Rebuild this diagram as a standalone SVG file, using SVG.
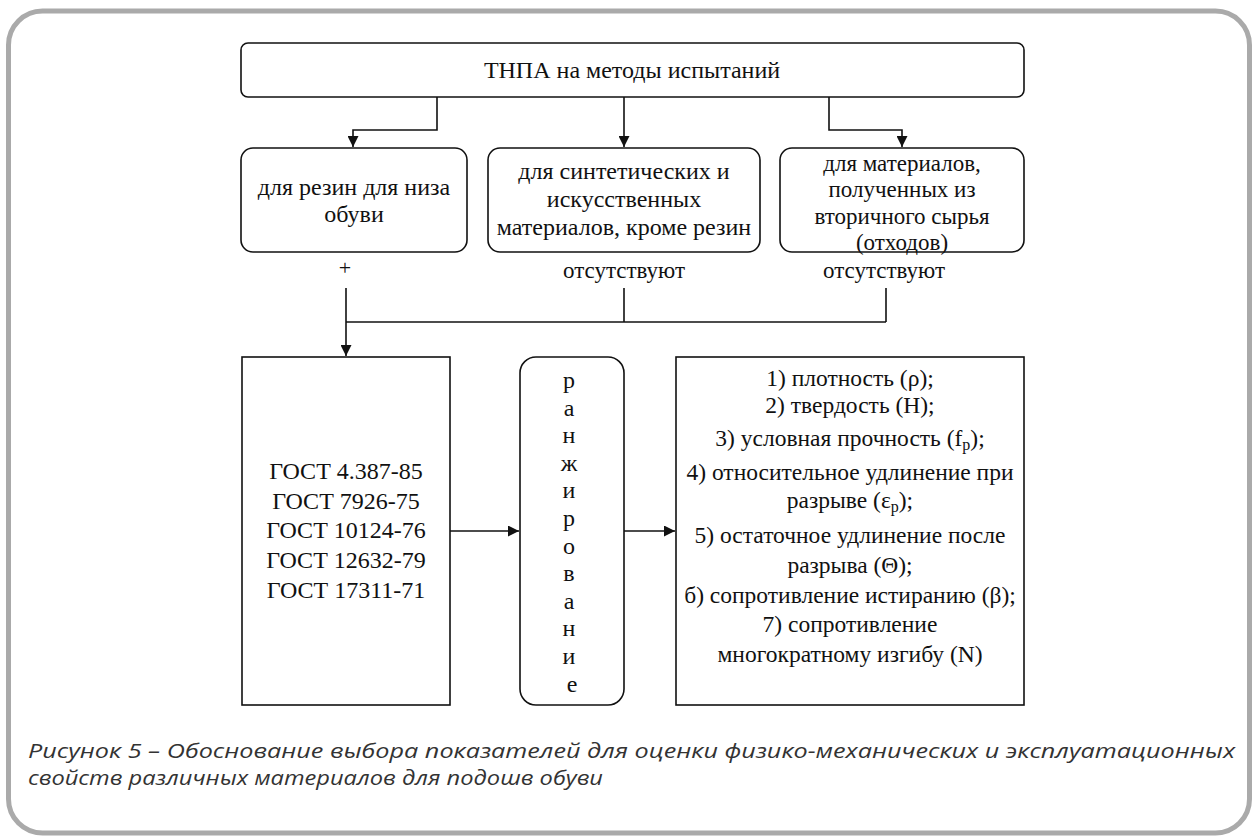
<svg xmlns="http://www.w3.org/2000/svg" width="1253" height="839" viewBox="0 0 1253 839">
<style>
.box{fill:#fff;stroke:#111;stroke-width:1.6}
.t{font-family:"Liberation Serif","DejaVu Serif","Times New Roman",serif;fill:#111;text-anchor:middle}
.c{fill:none;stroke:#111;stroke-width:1.6}
.cap{font-family:"Open Sans","Noto Sans",sans-serif;font-style:italic;font-size:20px;fill:#333}
</style>
<defs>
<marker id="ah2" viewBox="0 0 10 10" refX="10" refY="5" markerWidth="11" markerHeight="11" markerUnits="userSpaceOnUse" orient="auto">
<path d="M0,0 L10,5 L0,10 z" fill="#111"/>
</marker>
</defs>
<rect x="8.5" y="11" width="1241" height="822" rx="34" fill="#fff" stroke="#aaaaaa" stroke-width="5"/>

<g id="connectors">
<path class="c" d="M437,97 V130 H353 V147" marker-end="url(#ah2)"/>
<path class="c" d="M624,97 V147" marker-end="url(#ah2)"/>
<path class="c" d="M829,97 V130 H902 V147" marker-end="url(#ah2)"/>
<path class="c" d="M346,288 V356" marker-end="url(#ah2)"/>
<path class="c" d="M346,322 H886"/>
<path class="c" d="M624,288 V322"/>
<path class="c" d="M886,288 V322"/>
<path class="c" d="M450,531 H519" marker-end="url(#ah2)"/>
<path class="c" d="M624,531 H675" marker-end="url(#ah2)"/>
</g>

<g id="n-top">
<rect class="box" x="241" y="43" width="783" height="54" rx="7"/>
<text class="t" x="632" y="78" font-size="24">ТНПА на методы испытаний</text>
</g>

<g id="n-rubber">
<rect class="box" x="241" y="148" width="226" height="104" rx="12"/>
<text class="t" x="354" y="195" font-size="24">для резин для низа</text>
<text class="t" x="354" y="222" font-size="24">обуви</text>
<text class="t" x="345" y="275" font-size="22">+</text>
</g>

<g id="n-synth">
<rect class="box" x="488" y="148" width="272" height="104" rx="12"/>
<text class="t" x="624" y="179" font-size="24">для синтетических и</text>
<text class="t" x="624" y="207" font-size="24">искусственных</text>
<text class="t" x="624" y="235" font-size="24">материалов, кроме резин</text>
<text class="t" x="624" y="278" font-size="23">отсутствуют</text>
</g>

<g id="n-recycled">
<rect class="box" x="780" y="148" width="244" height="104" rx="12"/>
<text class="t" x="902" y="171" font-size="23">для материалов,</text>
<text class="t" x="902" y="197" font-size="23">полученных из</text>
<text class="t" x="902" y="224" font-size="23">вторичного сырья</text>
<text class="t" x="902" y="250" font-size="23">(отходов)</text>
<text class="t" x="884" y="278" font-size="23">отсутствуют</text>
</g>

<g id="n-gost">
<rect class="box" x="242" y="357" width="208" height="348"/>
<text class="t" x="346" y="479" font-size="24">ГОСТ 4.387-85</text>
<text class="t" x="346" y="509" font-size="24">ГОСТ 7926-75</text>
<text class="t" x="346" y="538" font-size="24">ГОСТ 10124-76</text>
<text class="t" x="346" y="568" font-size="24">ГОСТ 12632-79</text>
<text class="t" x="346" y="598" font-size="24">ГОСТ 17311-71</text>
</g>

<g id="n-rank">
<rect class="box" x="520" y="357" width="104" height="348" rx="16"/>
<text class="t" font-size="24">
<tspan x="572" y="388">р</tspan>
<tspan x="572" y="415.6">а</tspan>
<tspan x="572" y="443.2">н</tspan>
<tspan x="572" y="470.8">ж</tspan>
<tspan x="572" y="498.4">и</tspan>
<tspan x="572" y="526">р</tspan>
<tspan x="572" y="553.6">о</tspan>
<tspan x="572" y="581.2">в</tspan>
<tspan x="572" y="608.8">а</tspan>
<tspan x="572" y="636.4">н</tspan>
<tspan x="572" y="664">и</tspan>
<tspan x="572" y="691.6">е</tspan>
</text>
</g>

<g id="n-indicators">
<rect class="box" x="676" y="357" width="348" height="348"/>
<text class="t" x="850" y="386" font-size="23.5">1) плотность (ρ);</text>
<text class="t" x="850" y="413" font-size="23.5">2) твердость (Н);</text>
<text class="t" x="850" y="446" font-size="23.5">3) условная прочность (f<tspan font-size="16" dy="4">p</tspan><tspan dy="-4">);</tspan></text>
<text class="t" x="850" y="480" font-size="23.5">4) относительное удлинение при</text>
<text class="t" x="850" y="508" font-size="23.5">разрыве (ε<tspan font-size="16" dy="4">p</tspan><tspan dy="-4">);</tspan></text>
<text class="t" x="850" y="543" font-size="23.5">5) остаточное удлинение после</text>
<text class="t" x="850" y="573" font-size="23.5">разрыва (Θ);</text>
<text class="t" x="850" y="603" font-size="23.5">б) сопротивление истиранию (β);</text>
<text class="t" x="850" y="632" font-size="23.5">7) сопротивление</text>
<text class="t" x="850" y="662" font-size="23.5">многократному изгибу (N)</text>
</g>

<g id="caption">
<text class="cap" x="28" y="758" textLength="1207" lengthAdjust="spacingAndGlyphs">Рисунок 5 – Обоснование выбора показателей для оценки физико-механических и эксплуатационных</text>
<text class="cap" x="28" y="785" textLength="575" lengthAdjust="spacingAndGlyphs">свойств различных материалов для подошв обуви</text>
</g>
</svg>
